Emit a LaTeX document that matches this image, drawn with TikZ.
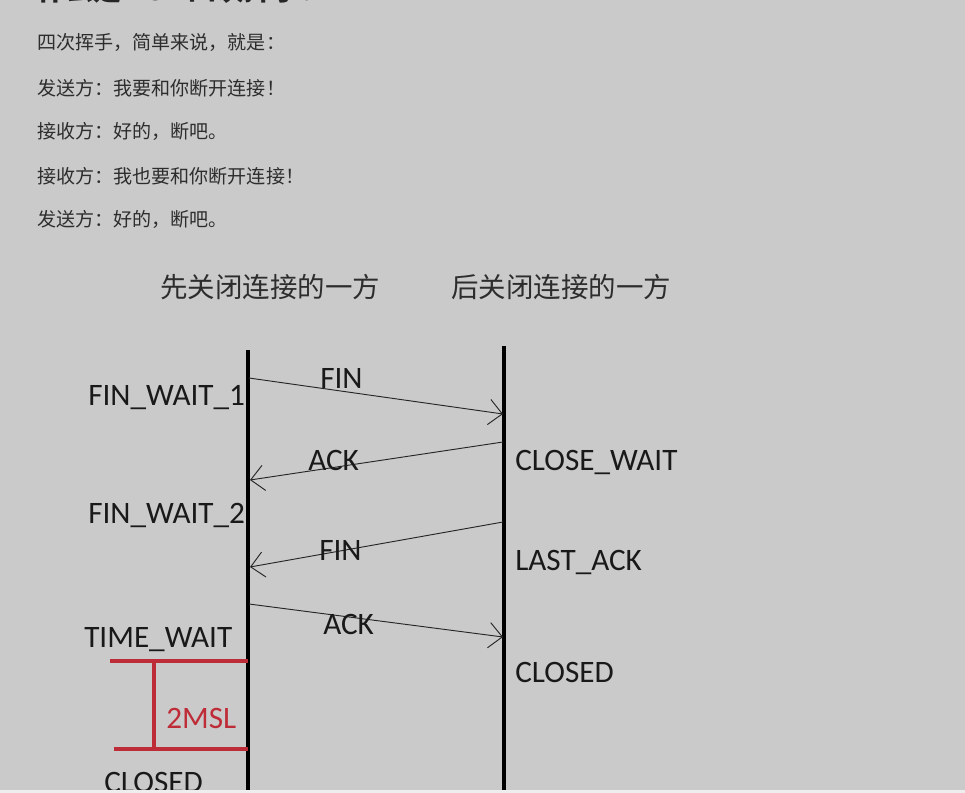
\documentclass[tikz,border=0pt]{standalone}
\usepackage{fontspec}
\setmainfont{Carlito}
\newfontfamily\cjk{Noto Sans CJK SC}
\usetikzlibrary{arrows.meta,positioning}
\definecolor{bggray}{RGB}{202,202,202}
\definecolor{txtgray}{RGB}{45,45,45}
\definecolor{msl}{RGB}{190,45,55}
\definecolor{strip}{RGB}{238,238,238}

\begin{document}
\begin{tikzpicture}[x=0.75pt, y=-0.75pt,
    every node/.style={inner sep=0pt, anchor=base west},
    life/.style={line width=2.6pt, black},
    msg/.style={line width=0.7pt, black!85, -{Straight Barb[length=10pt,width=19pt,line width=0.7pt]}},
    state/.style={font=\fontsize{23.4}{26}\selectfont, text=black!90},
    note/.style={font=\cjk\fontsize{14.3}{17}\selectfont, text=txtgray},
    side/.style={font=\cjk\fontsize{20.6}{24}\selectfont, text=txtgray},
    redline/.style={line width=2.8pt, msl}]
\useasboundingbox (0,0) rectangle (965,793);
\clip (0,0) rectangle (965,793);
\fill[bggray] (0,0) rectangle (965,793);

% text above the diagram
\node[font=\cjk\bfseries\fontsize{21}{24}\selectfont, text=black!85] (title) at (37,0) {什么是 TCP 四次挥手？};
\node[note] (n0) at (37,49.5) {四次挥手，简单来说，就是：};
\node[note] (n1) at (37,95.5) {发送方：我要和你断开连接！};
\node[note] (n2) at (37,138) {接收方：好的，断吧。};
\node[note] (n3) at (37,183) {接收方：我也要和你断开连接！};
\node[note] (n4) at (37,226.5) {发送方：好的，断吧。};

\node[side] (first) at (160,297) {先关闭连接的一方};
\node[side] (second) at (451,297) {后关闭连接的一方};

% lifelines
\coordinate (ltop) at (248,350);
\coordinate (lbot) at (248,790);
\coordinate (rtop) at (504,346);
\coordinate (rbot) at (504,790);
\draw[life] (ltop) -- (lbot);
\draw[life] (rtop) -- (rbot);

% messages
\coordinate (l1) at (249,378);
\coordinate (r1) at (503,414);
\coordinate (r2) at (503,442);
\coordinate (l2) at (250,480);
\coordinate (r3) at (503,522);
\coordinate (l3) at (250,567);
\coordinate (l4) at (249,604);
\coordinate (r4) at (503,637);
\draw[msg] (l1) -- (r1);
\draw[msg] (r2) -- (l2);
\draw[msg] (r3) -- (l3);
\draw[msg] (l4) -- (r4);
\node[state] (fin1) at (320,388) {FIN};
\node[state] (ack1) at (308,470) {ACK};
\node[state] (fin2) at (319,560) {FIN};
\node[state] (ack2) at (323,634) {ACK};

% states
\node[state] (fw1) at (88,405) {FIN\_WAIT\_1};
\node[state] (fw2) at (88,523) {FIN\_WAIT\_2};
\node[state] (tw) at (84,647) {TIME\_WAIT};
\node[state] (lclosed) at (104,792) {CLOSED};
\node[state] (cw) at (515,470) {CLOSE\_WAIT};
\node[state] (la) at (515,570) {LAST\_ACK};
\node[state] (rclosed) at (515,682) {CLOSED};

% 2MSL
\coordinate (m1) at (110,661);
\coordinate (m1r) at (248,661);
\coordinate (m2) at (114,749);
\coordinate (m2r) at (248,749);
\coordinate (mt) at (154,661);
\coordinate (mb) at (154,749);
\draw[redline] (m1) -- (m1r);
\draw[redline] (m2) -- (m2r);
\draw[redline] (mt) -- (mb);
\node[state, text=msl] (msl) at (166,728) {2MSL};

\fill[strip] (0,790) rectangle (965,793);
\end{tikzpicture}
\end{document}
